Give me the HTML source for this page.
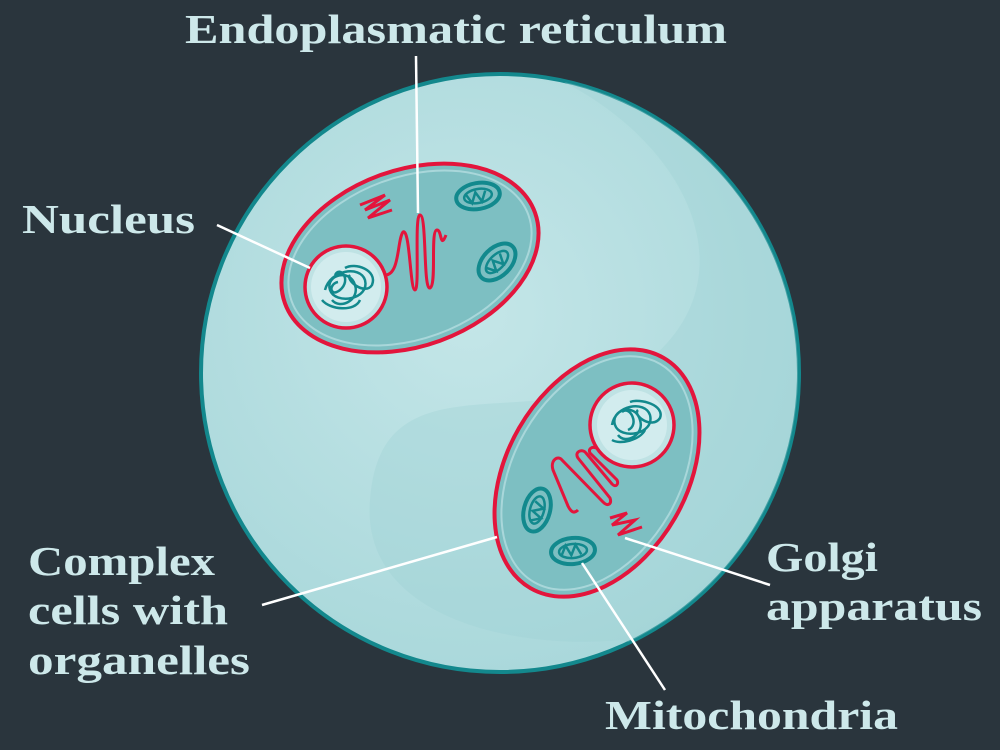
<!DOCTYPE html>
<html><head><meta charset="utf-8"><style>
html,body{margin:0;padding:0;background:#2a353d;}
svg{display:block}
text{font-family:"Liberation Serif",serif;font-weight:bold;fill:#cde8ea;font-size:41px}
</style></head><body>
<svg width="1000" height="750" viewBox="0 0 1000 750">
<rect width="1000" height="750" fill="#2a353d"/>
<defs>
<radialGradient id="g" cx="0.45" cy="0.4" r="0.7">
<stop offset="0" stop-color="#c4e6e8"/><stop offset="1" stop-color="#a6d6d9"/>
</radialGradient>
<clipPath id="c"><circle cx="500" cy="373" r="298"/></clipPath>
</defs>
<circle cx="500" cy="373" r="299" fill="url(#g)" stroke="#13888d" stroke-width="4"/>
<g clip-path="url(#c)" opacity="0.35">
<path d="M560 80 C700 150 760 300 620 380 C520 430 380 360 370 500 C360 620 520 650 620 640 L900 700 L900 60Z" fill="#9fd2d5"/>
</g>
<!-- upper cell -->
<g transform="rotate(-20 410 258)">
<ellipse cx="410" cy="258" rx="133" ry="88" fill="#7dbfc2" stroke="#e3153c" stroke-width="4"/>
<ellipse cx="410" cy="258" rx="126" ry="81" fill="none" stroke="#a9d7da" stroke-width="2"/>
</g>
<circle cx="346" cy="287" r="41" fill="#bfe2e4" stroke="#e3153c" stroke-width="3.5"/>
<circle cx="346" cy="287" r="35" fill="#d2ecee"/>
<g fill="none" stroke="#12898d" stroke-width="2.5">
<path d="M325 290 C330 270 360 265 365 280 C370 300 335 305 330 290 C325 275 350 268 355 285 C360 300 340 310 332 300 M345 268 C355 262 378 270 372 285 C365 296 345 280 350 275 M322 300 C330 310 355 312 360 300 M335 275 C340 265 352 280 340 290 C330 298 328 284 338 282"/>
</g>
<path d="M360 205 L385 195 L365 210 L390 200 L368 218 L392 210" fill="none" stroke="#e3153c" stroke-width="3"/>
<path d="M385 275 C400 275 397 240 403 232 C410 228 410 290 415 290 C420 290 414 215 420 215 C427 215 423 290 430 288 C437 285 430 230 437 230 C442 230 440 250 446 235" fill="none" stroke="#e3153c" stroke-width="3"/>
<g transform="rotate(-10 478 196)"><ellipse cx="478" cy="196" rx="22" ry="13" fill="none" stroke="#12898d" stroke-width="4"/><ellipse cx="478" cy="196" rx="14" ry="7" fill="none" stroke="#12898d" stroke-width="2.5"/><path d="M466 192 L471 202 L476 192 L481 202 L486 192" fill="none" stroke="#12898d" stroke-width="2.5"/></g>
<g transform="rotate(-45 497 262)"><ellipse cx="497" cy="262" rx="22" ry="14" fill="none" stroke="#12898d" stroke-width="4"/><ellipse cx="497" cy="262" rx="14" ry="7" fill="none" stroke="#12898d" stroke-width="2.5"/><path d="M485 258 L490 268 L495 258 L500 268 L505 258" fill="none" stroke="#12898d" stroke-width="2.5"/></g>
<!-- lower cell -->
<g transform="rotate(-60 597 473)">
<ellipse cx="597" cy="473" rx="133" ry="90" fill="#7dbfc2" stroke="#e3153c" stroke-width="4"/>
<ellipse cx="597" cy="473" rx="126" ry="83" fill="none" stroke="#a9d7da" stroke-width="2"/>
</g>
<circle cx="632" cy="425" r="42" fill="#bfe2e4" stroke="#e3153c" stroke-width="3.5"/>
<circle cx="632" cy="425" r="35" fill="#d2ecee"/>
<g fill="none" stroke="#12898d" stroke-width="2.5">
<path d="M612 425 C615 405 645 400 650 415 C655 435 620 440 615 425 C610 410 635 402 640 420 C645 435 625 445 618 435 M630 402 C640 398 665 405 660 418 C652 430 632 415 638 410 M612 440 C620 445 640 440 645 430 M622 412 C630 405 640 425 628 430"/>
</g>
<path d="M578 510 C574 514 571 512 568 506 L553 470 C550 460 558 455 562 460 L603 502 C608 507 612 504 610 498 L578 458 C574 452 582 448 586 453 L612 484 C616 488 619 484 617 480 L590 453 C588 449 592 446 596 448" fill="none" stroke="#e3153c" stroke-width="3"/>
<path d="M610 518 L627 513 L612 525 L635 520 L618 535 L642 527" fill="none" stroke="#e3153c" stroke-width="3"/>
<g transform="rotate(-75 537 510)"><ellipse cx="537" cy="510" rx="22" ry="13" fill="none" stroke="#12898d" stroke-width="4"/><ellipse cx="537" cy="510" rx="14" ry="7" fill="none" stroke="#12898d" stroke-width="2.5"/><path d="M525 506 L530 516 L535 506 L540 516 L545 506" fill="none" stroke="#12898d" stroke-width="2.5"/></g>
<g transform="rotate(-5 573 551)"><ellipse cx="573" cy="551" rx="22" ry="13" fill="none" stroke="#12898d" stroke-width="4"/><ellipse cx="573" cy="551" rx="14" ry="7" fill="none" stroke="#12898d" stroke-width="2.5"/><path d="M561 555 L566 545 L571 555 L576 545 L581 555" fill="none" stroke="#12898d" stroke-width="2.5"/></g>
<!-- leader lines -->
<g stroke="#ffffff" stroke-width="2.5">
<line x1="416" y1="56" x2="418" y2="213"/>
<line x1="217" y1="225" x2="310" y2="268"/>
<line x1="262" y1="605" x2="497" y2="537"/>
<line x1="625" y1="538" x2="770" y2="585"/>
<line x1="582" y1="563" x2="665" y2="690"/>
</g>
<text x="185" y="43" textLength="542" lengthAdjust="spacingAndGlyphs">Endoplasmatic reticulum</text>
<text x="22" y="233" textLength="173" lengthAdjust="spacingAndGlyphs">Nucleus</text>
<text x="28" y="575" textLength="187" lengthAdjust="spacingAndGlyphs">Complex</text>
<text x="28" y="624" textLength="200" lengthAdjust="spacingAndGlyphs">cells with</text>
<text x="28" y="674" textLength="222" lengthAdjust="spacingAndGlyphs">organelles</text>
<text x="766" y="571" textLength="112" lengthAdjust="spacingAndGlyphs">Golgi</text>
<text x="766" y="620" textLength="216" lengthAdjust="spacingAndGlyphs">apparatus</text>
<text x="605" y="729" textLength="293" lengthAdjust="spacingAndGlyphs">Mitochondria</text>
</svg>
</body></html>
